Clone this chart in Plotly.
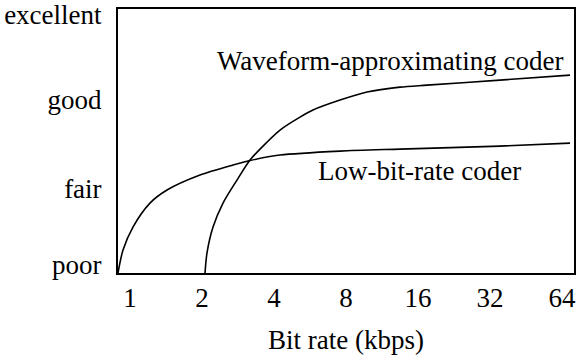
import plotly.graph_objects as go
import math

# Tick labels
x_ticks = [1, 2, 4, 8, 16, 32, 64]
quality_labels = ["poor", "fair", "good", "excellent"]
quality_levels = [0.0, 0.91, 1.98, 3.0]

# Low-bit-rate coder (bit rate kbps, quality level)
low_x = [0.891, 0.935, 1.029, 1.212, 1.428, 1.962, 2.696, 3.175, 4.238, 7.55, 13.45, 35.2, 69.1]
low_y = [-0.10, 0.175, 0.451, 0.739, 0.896, 1.076, 1.196, 1.25, 1.316, 1.364, 1.388, 1.424, 1.46]

# Waveform-approximating coder
wave_x = [2.059, 2.098, 2.224, 2.448, 2.801, 3.175, 3.496, 4.238, 5.137, 5.823, 7.55, 9.79, 13.45, 17.45, 35.2, 69.1]
wave_y = [-0.10, 0.139, 0.451, 0.739, 1.016, 1.256, 1.388, 1.617, 1.772, 1.857, 1.976, 2.073, 2.132, 2.156, 2.216, 2.276]

FONT = '"Liberation Serif", "Times New Roman", Times, serif'
FS = 27

fig = go.Figure()
fig.add_trace(go.Scatter(x=low_x, y=low_y, mode="lines",
                         line=dict(color="black", width=1.6, shape="spline", smoothing=0.8),
                         showlegend=False, hoverinfo="skip"))
fig.add_trace(go.Scatter(x=wave_x, y=wave_y, mode="lines",
                         line=dict(color="black", width=1.6, shape="spline", smoothing=0.8),
                         showlegend=False, hoverinfo="skip"))

fig.add_annotation(x=math.log10(12.2), y=2.444, text="Waveform-approximating coder", showarrow=False,
                   xanchor="center", yanchor="middle", font=dict(family=FONT, size=FS, color="black"))
fig.add_annotation(x=math.log10(16.3), y=1.124, text="Low-bit-rate coder", showarrow=False,
                   xanchor="center", yanchor="middle", font=dict(family=FONT, size=FS, color="black"))

fig.update_layout(
    width=577, height=355,
    margin=dict(l=118, r=3, t=9, b=82, autoexpand=False),
    paper_bgcolor="white", plot_bgcolor="white",
    font=dict(family=FONT, size=FS, color="black"),
    xaxis=dict(type="log", range=[math.log10(0.891), math.log10(71.8)],
               tickvals=x_ticks, ticktext=[str(v) for v in x_ticks], automargin=False,
               ticklabeloverflow="allow",
               showgrid=False, zeroline=False, showline=True, mirror=True,
               linecolor="black", linewidth=2, ticks="",
               title=dict(text="Bit rate (kbps)", standoff=20, font=dict(family=FONT, size=FS))),
    yaxis=dict(range=[-0.10, 3.07], tickvals=quality_levels, ticktext=quality_labels, automargin=False,
               ticklabeloverflow="allow",
               showgrid=False, zeroline=False, showline=True, mirror=True,
               linecolor="black", linewidth=2, ticks="", ticklabelstandoff=9),
)

fig.write_html("out.html", config={"displayModeBar": False},
               post_script="document.body.style.margin='0';document.body.style.overflow='hidden';")
